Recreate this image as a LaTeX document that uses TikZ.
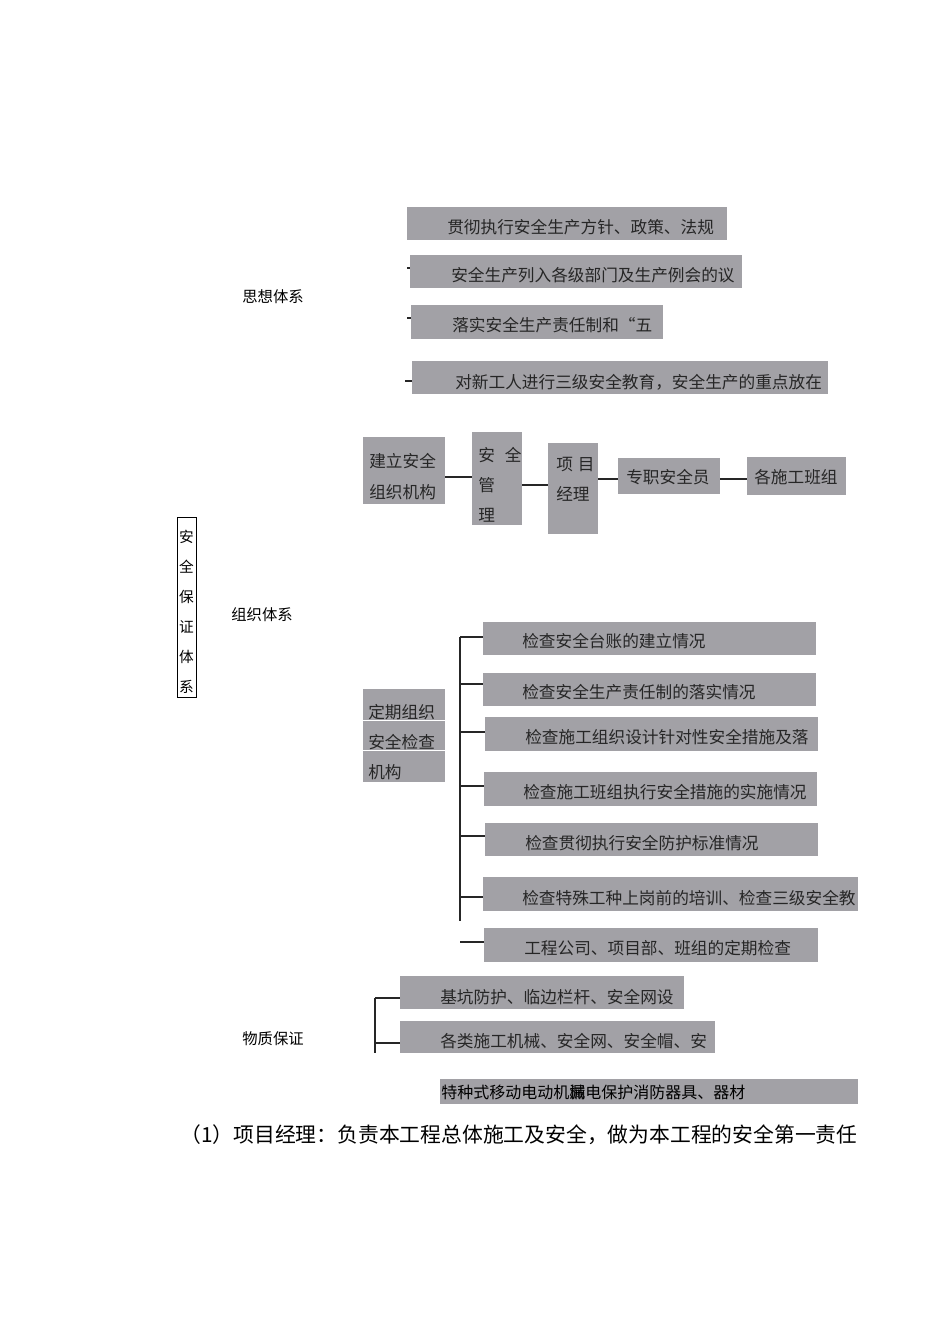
\documentclass[tikz,border=0pt]{standalone}
\usepackage{fontspec}
\setmainfont{Noto Sans CJK SC}
\usetikzlibrary{fit}
\definecolor{boxgray}{RGB}{162,161,166}
\definecolor{inkgray}{RGB}{38,38,38}
\tikzset{
  gbox/.style={fill=boxgray, inner sep=0pt},
  btext/.style={anchor=west, inner sep=0pt, text=inkgray, font=\fontsize{12.5}{23}\selectfont},
  ltext/.style={inner sep=0pt, text=black, font=\fontsize{11.5}{14}\selectfont},
  link/.style={draw=inkgray, line width=1pt},
}
\begin{document}
\begin{tikzpicture}[x=0.75pt,y=-0.75pt]
\useasboundingbox (0,0) rectangle (950,1344);

\node[draw=black, line width=0.5pt, inner sep=0pt, fit={(177,517) (196,697)}] (aqbx) {};
\node[ltext, align=center, font=\fontsize{11}{22.5}\selectfont] (aqtx) at (186.5,612) {安\\全\\保\\证\\体\\系};

\node[ltext] (sxtx) at (273,297) {思想体系};
\node[ltext] (zztx) at (262,615) {组织体系};
\node[ltext] (wztx) at (273,1039) {物质保证};

\node[gbox, fit={(407,207) (727,240)}] (sx1) {};
\node[gbox, fit={(410,255) (742,288)}] (sx2) {};
\node[gbox, fit={(411,305) (663,339)}] (sx3) {};
\node[gbox, fit={(412,361) (828,394)}] (sx4) {};
\node[btext] (sx1t) at (447,227) {贯彻执行安全生产方针、政策、法规};
\node[btext] (sx2t) at (451,275) {安全生产列入各级部门及生产例会的议};
\node[btext] (sx3t) at (452,325) {落实安全生产责任制和“五};
\node[btext] (sx4t) at (455,382) {对新工人进行三级安全教育，安全生产的重点放在};
\coordinate (sx2k) at (407,268);
\coordinate (sx3k) at (407,318);
\coordinate (sx4k) at (405,381);
\draw[link] (sx2k) -- (sx2k -| sx2.west);
\draw[link] (sx3k) -- (sx3k -| sx3.west);
\draw[link] (sx4k) -- (sx4k -| sx4.west);

\node[gbox, fit={(363,437) (445,504)}] (jl) {};
\node[gbox, fit={(472,432) (522,525)}] (aqgl) {};
\node[gbox, fit={(548,443) (598,534)}] (xmjl) {};
\node[gbox, fit={(618,458) (720,494)}] (zzy) {};
\node[gbox, fit={(747,457) (846,495)}] (bz) {};
\node[btext, align=left, font=\fontsize{12.5}{23.3}\selectfont] (jlt) at (369,477) {建立安全\\组织机构};
\node[btext, align=left, font=\fontsize{12.5}{22.5}\selectfont] (aqglt) at (478,485) {安\hspace{0.6em}全\\管\\理};
\node[btext, align=left, font=\fontsize{12.5}{22.5}\selectfont] (xmjlt) at (556,479) {项\hspace{0.3em}目\\经理};
\node[btext] (zzyt) at (626,477) {专职安全员};
\node[btext] (bzt) at (754,477) {各施工班组};
\draw[link] (jl.east |- 0,477) -- (aqgl.west |- 0,477);
\draw[link] (aqgl.east |- 0,485) -- (xmjl.west |- 0,485);
\draw[link] (xmjl.east |- 0,479) -- (zzy.west |- 0,479);
\draw[link] (zzy.east |- 0,479) -- (bz.west |- 0,479);

\node[gbox, fit={(363,689) (445,782)}] (dq) {};
\draw[white, line width=0.6pt] (363,720) -- (445,720) (363,750) -- (445,750);
\node[btext, align=left, font=\fontsize{12.5}{22.5}\selectfont] (dqt) at (368,742) {定期组织\\安全检查\\机构};

\node[gbox, fit={(483,622) (816,655)}] (jc1) {};
\node[gbox, fit={(483,673) (816,706)}] (jc2) {};
\node[gbox, fit={(485,717) (818,751)}] (jc3) {};
\node[gbox, fit={(484,772) (817,806)}] (jc4) {};
\node[gbox, fit={(485,823) (818,856)}] (jc5) {};
\node[gbox, fit={(483,877) (858,911)}] (jc6) {};
\node[gbox, fit={(484,928) (818,962)}] (jc7) {};
\node[btext] (jc1t) at (522,641) {检查安全台账的建立情况};
\node[btext] (jc2t) at (522,692) {检查安全生产责任制的落实情况};
\node[btext] (jc3t) at (525,737) {检查施工组织设计针对性安全措施及落};
\node[btext] (jc4t) at (523,792) {检查施工班组执行安全措施的实施情况};
\node[btext] (jc5t) at (525,843) {检查贯彻执行安全防护标准情况};
\node[btext] (jc6t) at (522,898) {检查特殊工种上岗前的培训、检查三级安全教};
\node[btext] (jc7t) at (524,948) {工程公司、项目部、班组的定期检查};
\coordinate (jctop) at (460,637);
\coordinate (jcbot) at (460,921);
\draw[link] (jctop) -- (jcbot);
\draw[link] (jctop) -- (jctop -| jc1.west);
\draw[link] (460,684) -- (jc1.west |- 0,684);
\draw[link] (460,732) -- (jc3.west |- 0,732);
\draw[link] (460,786) -- (jc4.west |- 0,786);
\draw[link] (460,836) -- (jc5.west |- 0,836);
\draw[link] (460,897) -- (jc6.west |- 0,897);
\coordinate (jc7k) at (460,942);
\draw[link] (jc7k) -- (jc7k -| jc7.west);

\node[gbox, fit={(400,976) (684,1009)}] (wz1) {};
\node[gbox, fit={(400,1021) (715,1053)}] (wz2) {};
\node[gbox, fit={(440,1079) (858,1104)}] (wz3) {};
\node[btext] (wz1t) at (440,997) {基坑防护、临边栏杆、安全网设};
\node[btext] (wz2t) at (440,1041) {各类施工机械、安全网、安全帽、安};
\node[btext, text=black, font=\fontsize{12}{14}\selectfont] (wz3t) at (441,1092) {特种式移动电动机\rlap{械}漏电保护消防器具、器材};
\coordinate (wztop) at (375,998);
\coordinate (wzbot) at (375,1053);
\draw[link] (wztop) -- (wzbot);
\draw[link] (wztop) -- (wztop -| wz1.west);
\draw[link] (375,1043) -- (wz2.west |- 0,1043);

\node[anchor=west, inner sep=0pt, font=\fontsize{15.6}{18}\selectfont] (p1) at (180,1135) {（1）项目经理：负责本工程总体施工及安全，做为本工程的安全第一责任};
\end{tikzpicture}
\end{document}
